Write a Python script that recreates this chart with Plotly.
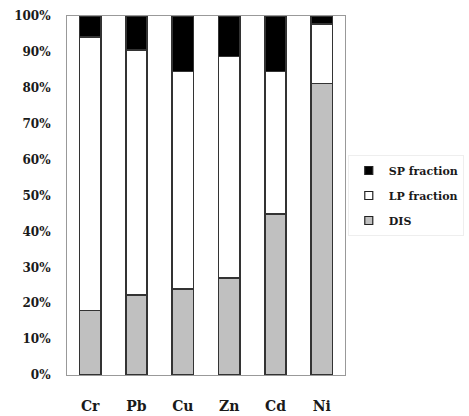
import plotly.graph_objects as go

categories = ["Cr", "Pb", "Cu", "Zn", "Cd", "Ni"]
dis = [18.0, 22.3, 23.9, 27.0, 44.8, 81.2]
lp = [76.2, 68.2, 60.6, 61.7, 39.7, 16.6]
sp = [5.8, 9.5, 15.5, 11.3, 15.5, 2.2]

series_names = ["DIS", "LP fraction", "SP fraction"]
series_values = [dis, lp, sp]
series_colors = ["#c0c0c0", "#ffffff", "#000000"]

font_family = "DejaVu Serif"
txt = "#1a1a1a"
edge = "#333333"

fig = go.Figure()
for name, vals, col in zip(series_names, series_values, series_colors):
    fig.add_trace(go.Bar(x=categories, y=vals, name=name, showlegend=False,
                         marker=dict(color=col, line=dict(color=edge, width=1.5))))
# legend entries with small square symbols (top to bottom: SP, LP, DIS)
for name, col in reversed(list(zip(series_names, series_colors))):
    fig.add_trace(go.Scatter(x=[categories[0]], y=[None], name=name, mode="markers",
                             legendgroup=name, hoverinfo="skip",
                             marker=dict(symbol="square", size=8, color=col,
                                         line=dict(color="#222222", width=1.2))))

fig.update_layout(
    barmode="stack",
    bargap=0.54,
    width=469, height=416,
    margin=dict(l=67, r=124, t=16, b=41, autoexpand=False),
    paper_bgcolor="white", plot_bgcolor="white",
    font=dict(family=font_family, size=11, color=txt, weight="bold"),
    legend=dict(traceorder="grouped", x=1.01, y=0.5, xanchor="left", yanchor="middle",
                font=dict(family=font_family, size=11, color=txt, weight="bold"),
                bordercolor="#eeeeee", borderwidth=1, itemwidth=30,
                tracegroupgap=6),
    xaxis=dict(showline=True, linecolor="#999999", linewidth=1, mirror=True,
               ticks="", ticklabelstandoff=18, automargin=False,
               tickfont=dict(family=font_family, size=14, color=txt, weight="bold"),
               showgrid=False),
    yaxis=dict(range=[0, 100], dtick=10, ticksuffix="%", showline=True,
               linecolor="#999999", linewidth=1, mirror=True, showgrid=False,
               ticks="", ticklabelstandoff=13, automargin=False,
               tickfont=dict(family=font_family, size=12, color=txt, weight="bold"),
               zeroline=False),
)
fig.write_html("out.html", config={"displayModeBar": False})

with open("out.html", "r", encoding="utf-8") as f:
    html = f.read()
html = html.replace("<head>", "<head><style>html,body{margin:0;padding:0;overflow:hidden}</style>", 1)
with open("out.html", "w", encoding="utf-8") as f:
    f.write(html)
